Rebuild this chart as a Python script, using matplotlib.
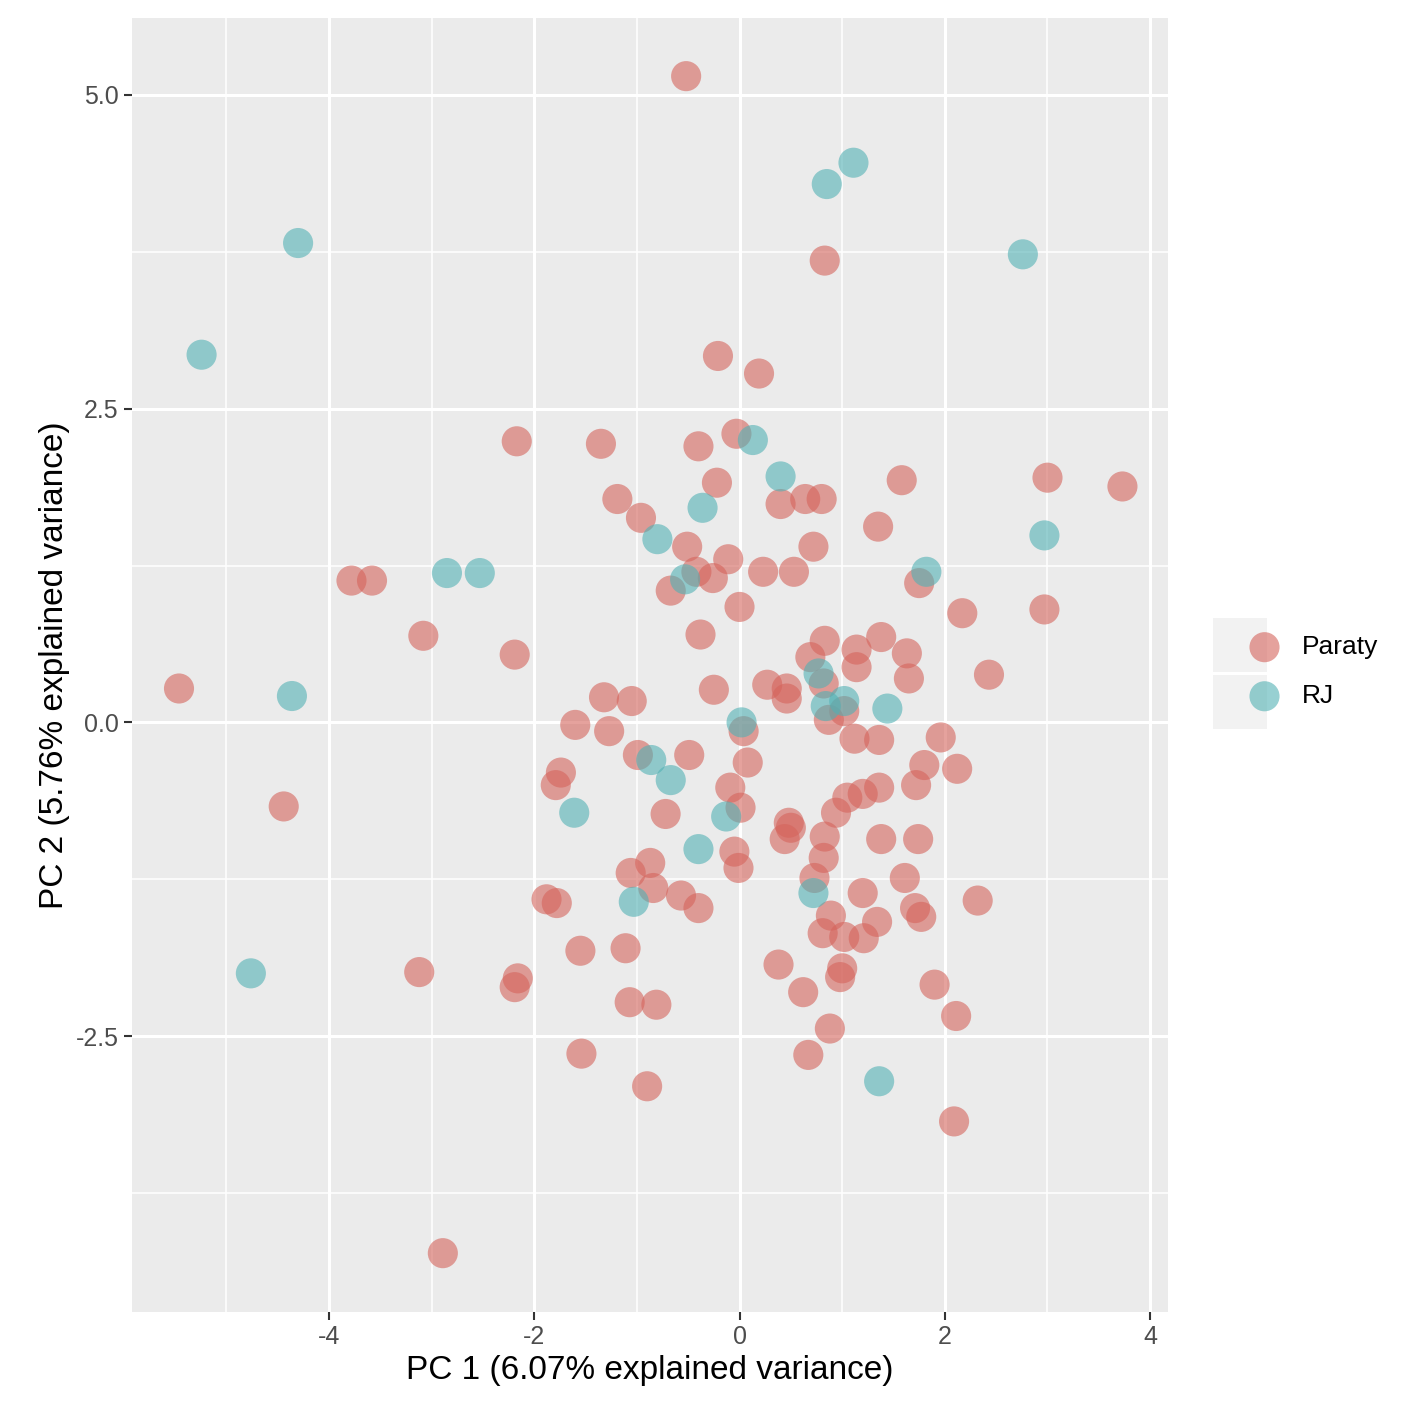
import matplotlib
matplotlib.use("Agg")
import matplotlib.pyplot as plt
from matplotlib.ticker import FixedLocator
from matplotlib.patches import Rectangle

plt.rcParams['font.family'] = ['Liberation Sans', 'DejaVu Sans']
plt.rcParams['axes.unicode_minus'] = False

rj_x = [-4.30,-5.24,0.85,1.11,2.76,0.13,0.40,-0.36,-0.80,2.97,1.82,-2.85,-2.53,-0.53,-4.36,0.77,1.02,0.84,1.44,0.02,-0.86,-0.67,-1.61,-0.13,-0.40,0.72,-1.03,-4.76,1.36]
rj_y = [3.82,2.93,4.29,4.46,3.73,2.25,1.96,1.71,1.46,1.49,1.20,1.19,1.19,1.14,0.21,0.39,0.17,0.13,0.11,0.00,-0.30,-0.46,-0.72,-0.75,-1.01,-1.36,-1.43,-2.00,-2.86]

par_x = [-0.52,0.83,-0.21,0.19,-2.17,-1.35,-0.40,-0.03,3.00,1.58,3.73,-0.22,-1.19,0.40,0.64,0.80,-0.96,1.35,-0.51,0.72,-0.11,-0.42,-0.26,0.23,0.53,-3.78,-3.58,1.75,-0.67,0.00,2.17,2.97,-3.08,-0.38,0.83,1.38,1.14,-2.19,0.69,1.63,1.14,2.43,1.65,-5.46,0.27,0.46,0.82,-0.25,-1.32,-1.05,0.46,1.02,0.87,-1.60,-1.27,0.04,1.12,1.36,1.96,-0.99,-0.49,0.08,1.80,2.12,-1.74,-1.79,-0.09,1.72,1.36,1.20,1.05,-4.44,0.01,-0.72,0.94,0.48,0.50,0.44,0.83,1.38,1.74,-0.05,0.82,-0.87,-0.01,-1.06,0.73,1.61,-0.84,-0.57,1.20,-1.88,-1.78,2.32,-0.40,1.71,1.77,0.89,1.34,0.81,1.02,1.21,-1.55,-1.11,0.38,1.00,0.98,-3.12,-2.16,-2.19,1.90,0.62,-1.07,-0.81,2.11,0.88,-1.54,0.67,-0.90,2.09,-2.89]
par_y = [5.15,3.68,2.92,2.78,2.24,2.22,2.20,2.30,1.95,1.93,1.88,1.91,1.78,1.74,1.78,1.78,1.63,1.56,1.40,1.40,1.30,1.20,1.15,1.20,1.20,1.13,1.13,1.11,1.05,0.92,0.87,0.90,0.69,0.70,0.65,0.68,0.58,0.54,0.52,0.55,0.44,0.38,0.35,0.27,0.30,0.27,0.31,0.26,0.20,0.17,0.19,0.09,0.02,-0.02,-0.07,-0.07,-0.13,-0.14,-0.12,-0.26,-0.26,-0.32,-0.34,-0.37,-0.40,-0.50,-0.52,-0.50,-0.52,-0.57,-0.60,-0.67,-0.68,-0.73,-0.72,-0.80,-0.84,-0.93,-0.91,-0.93,-0.93,-1.03,-1.08,-1.12,-1.16,-1.20,-1.24,-1.24,-1.32,-1.38,-1.36,-1.41,-1.44,-1.42,-1.48,-1.48,-1.55,-1.54,-1.59,-1.68,-1.71,-1.72,-1.82,-1.80,-1.93,-1.96,-2.03,-1.99,-2.04,-2.11,-2.09,-2.15,-2.23,-2.25,-2.34,-2.44,-2.64,-2.65,-2.90,-3.18,-4.23]

PAR_C = "#D5645C"
RJ_C = "#52B1B4"

fig = plt.figure(figsize=(14.17, 14.17), dpi=100)
ax = fig.add_axes([0.093, 0.074, 0.731, 0.913])
ax.set_facecolor("#EBEBEB")
for s in ax.spines.values():
    s.set_visible(False)
ax.set_xlim(-5.92, 4.17)
ax.set_ylim(-4.70, 5.61)
ax.xaxis.set_major_locator(FixedLocator([-4, -2, 0, 2, 4]))
ax.xaxis.set_minor_locator(FixedLocator([-5, -3, -1, 1, 3]))
ax.yaxis.set_major_locator(FixedLocator([-2.5, 0, 2.5, 5.0]))
ax.yaxis.set_minor_locator(FixedLocator([-3.75, -1.25, 1.25, 3.75]))
ax.set_yticklabels(["-2.5", "0.0", "2.5", "5.0"])
ax.grid(which="major", color="white", lw=2.2)
ax.grid(which="minor", color="white", lw=1.1)
ax.set_axisbelow(True)
ax.tick_params(which="major", length=6, width=1.5, color="#333333", labelsize=18, labelcolor="#4D4D4D")
ax.tick_params(which="minor", length=0)

ax.scatter(par_x, par_y, s=470, c=PAR_C, alpha=0.6, edgecolors="none", label="Paraty")
ax.scatter(rj_x, rj_y, s=470, c=RJ_C, alpha=0.6, edgecolors="none", label="RJ")

ax.set_xlabel("PC 1 (6.07% explained variance)", fontsize=24, labelpad=4)
ax.set_ylabel("PC 2 (5.76% explained variance)", fontsize=24, labelpad=4)

# legend key backgrounds
for yk in [645, 702]:
    fig.patches.append(Rectangle(((1240-27)/1417, (1417-yk-27)/1417), 54/1417, 54/1417,
                                 transform=fig.transFigure, facecolor="#F2F2F2", edgecolor="none", zorder=0))
leg = fig.legend(loc="center left", bbox_to_anchor=(0.857, 0.526), frameon=False,
                 fontsize=19, handletextpad=0.4, labelspacing=0.95, markerscale=1.0)
for h in leg.legend_handles:
    h.set_alpha(0.6)
plt.savefig("out.png", dpi=100)
